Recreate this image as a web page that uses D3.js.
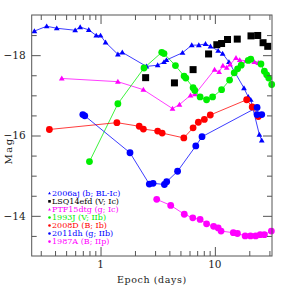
<!DOCTYPE html>
<html><head><meta charset="utf-8">
<script src="https://cdn.jsdelivr.net/npm/d3@7"></script>
<style>body{margin:0;background:#fff}svg{display:block}</style>
</head><body>
<svg id="c" width="287" height="287"></svg>
<script>
// ---- data (epoch in days, absolute magnitude) ----
const sn2006aj_t = [0.264,0.338,0.414,0.600,0.664,0.789,0.917,1.0,1.106,1.418,1.55,2.52,3.16,3.59,3.77,5.21,6.28,7.24,8.28,9.16,10.69,11.69,13.27,17.97,19.6,20.6,24.5,25.7];
const sn2006aj_m = [-18.60,-18.72,-18.67,-18.62,-18.70,-18.63,-18.49,-18.49,-18.32,-18.02,-18.07,-17.72,-17.75,-17.83,-17.88,-18.06,-18.25,-18.25,-18.28,-18.22,-18.11,-18.04,-17.83,-17.18,-16.96,-16.89,-16.02,-15.88];

const lsq14efd_t = [2.48,4.43,6.45,8.81,10.4,11.45,12.9,15.7,20.7,23.7,26.4,29.0];
const lsq14efd_m = [-17.44,-17.31,-17.64,-18.03,-18.26,-18.29,-18.39,-18.40,-18.48,-18.49,-18.31,-18.22];

const ptf15dtg_t = [0.458,1.418,2.37,4.26,4.90,6.12,6.72,9.94,10.9,11.75,12.7,13.6,15.3,16.5,18.7,22.1,24.0];
const ptf15dtg_m = [-17.42,-17.34,-17.14,-16.67,-16.77,-17.00,-17.03,-17.64,-17.58,-17.74,-17.69,-17.77,-17.93,-17.88,-17.86,-17.83,-17.81];

const sn1993J_t = [0.80,1.418,2.40,3.43,3.59,4.52,5.38,5.57,6.45,6.68,7.43,8.46,9.55,11.45,13.45,14.76,15.8,17.0,19.6,20.6,25.3,27.1,28.4,29.6,31.4];
const sn1993J_m = [-15.35,-16.79,-17.68,-18.07,-18.04,-17.74,-17.48,-17.43,-17.19,-17.12,-16.96,-16.89,-16.96,-17.14,-17.38,-17.56,-17.66,-17.75,-17.87,-17.90,-17.78,-17.60,-17.51,-17.43,-17.27];

const sn2008D_t = [0.357,1.39,2.18,2.37,3.16,3.46,5.35,6.45,7.17,8.09,9.12,18.97,21.2,24.0];
const sn2008D_m = [-16.15,-16.32,-16.23,-16.16,-16.11,-16.06,-15.94,-16.19,-16.33,-16.40,-16.51,-16.89,-16.71,-16.47];

const sn2011dh_t = [0.70,0.728,1.81,2.67,2.88,3.62,3.79,4.72,6.81,7.72,23.4,23.4,25.7];
const sn2011dh_m = [-16.52,-16.49,-15.57,-14.79,-14.81,-14.78,-14.85,-15.11,-15.74,-15.97,-16.70,-16.52,-16.52];

const sn1987A_t = [3.10,4.11,5.40,6.41,7.43,8.46,9.75,10.69,11.33,14.5,15.75,18.4,20.5,22.75,24.9,27.1,31.2];
const sn1987A_m = [-14.41,-14.26,-14.04,-13.95,-13.91,-13.80,-13.74,-13.70,-13.62,-13.58,-13.56,-13.50,-13.50,-13.50,-13.53,-13.53,-13.62];

const legendLabels = ["2006aj (b; BL-Ic)","LSQ14efd (V; Ic)","PTF15dtg (g; Ic)","1993J (V; IIb)","2008D (B; Ib)","2011dh (g; IIb)","1987A (B; IIp)"];
const xTickLabels = [1, 10];
const xMinorTicks = [0.3,0.4,0.5,0.6,0.7,0.8,0.9,2,3,4,5,6,7,8,9,20,30];
const yTickLabels = [-18, -16, -14];
const yMinorTicks = [-18.5,-17.5,-17,-16.5,-15.5,-15,-14.5,-13.5];

// ---- chart ----
const svg = d3.select("#c");
const L = 31.7, R = 272, T = 15, B = 256;
const x = d3.scaleLog().domain([0.25, 31.6]).range([L, R]);
const y = d3.scaleLinear().domain([-19, -13]).range([T, B]);
const font = "DejaVu Serif";
const axisColor = "#555";

function zip(t, m){ return t.map((d,i)=>({t:d, m:m[i]})); }

const series = [
  {name:legendLabels[0], data:zip(sn2006aj_t,sn2006aj_m), color:"#0000ff", sym:"tri", size:2.6, line:true},
  {name:legendLabels[1], data:zip(lsq14efd_t,lsq14efd_m), color:"#000000", sym:"sq", size:3.5, line:false},
  {name:legendLabels[2], data:zip(ptf15dtg_t,ptf15dtg_m), color:"#ff00ff", sym:"tri", size:2.6, line:true},
  {name:legendLabels[3], data:zip(sn1993J_t,sn1993J_m), color:"#00ee00", sym:"circ", size:3.4, line:true},
  {name:legendLabels[4], data:zip(sn2008D_t,sn2008D_m), color:"#ff0000", sym:"circ", size:3.4, line:true},
  {name:legendLabels[5], data:zip(sn2011dh_t,sn2011dh_m), color:"#0000ff", sym:"circ", size:3.4, line:true},
  {name:legendLabels[6], data:zip(sn1987A_t,sn1987A_m), color:"#ff00ff", sym:"circ", size:3.4, line:true}
];

function drawSym(g, sym, cx, cy, s, color){
  if(sym==="circ") g.append("circle").attr("cx",cx).attr("cy",cy).attr("r",s).attr("fill",color);
  else if(sym==="sq") g.append("rect").attr("x",cx-s).attr("y",cy-s).attr("width",2*s).attr("height",2*s).attr("fill",color);
  else g.append("path").attr("d",`M${cx},${cy-s*1.1}L${cx+s*1.1},${cy+s*0.8}L${cx-s*1.1},${cy+s*0.8}Z`).attr("fill",color);
}

const plot = svg.append("g");
const line = d3.line().x(d=>x(d.t)).y(d=>y(d.m));
series.forEach(s=>{
  if(s.line) plot.append("path").attr("d",line(s.data)).attr("fill","none").attr("stroke",s.color).attr("stroke-width",0.9).attr("opacity",0.85);
});
series.forEach(s=>{
  const g = plot.append("g");
  s.data.forEach(d=>drawSym(g, s.sym, x(d.t), y(d.m), s.size, s.color));
});

// axes (ticks inward on all sides)
function addAxis(axisFn, scale, vals, len, transform){
  const g = svg.append("g").attr("transform",transform)
    .call(axisFn(scale).tickValues(vals).tickSize(len).tickFormat(""));
  g.selectAll(".domain").remove();
  g.selectAll("line").attr("stroke",axisColor);
}
addAxis(d3.axisBottom, x, xMinorTicks, -5, `translate(0,${B})`);
addAxis(d3.axisBottom, x, xTickLabels, -9, `translate(0,${B})`);
addAxis(d3.axisTop, x, xMinorTicks, -5, `translate(0,${T})`);
addAxis(d3.axisTop, x, xTickLabels, -9, `translate(0,${T})`);
addAxis(d3.axisLeft, y, yMinorTicks, -5, `translate(${L},0)`);
addAxis(d3.axisLeft, y, yTickLabels, -9, `translate(${L},0)`);
addAxis(d3.axisRight, y, yMinorTicks, -5, `translate(${R},0)`);
addAxis(d3.axisRight, y, yTickLabels, -9, `translate(${R},0)`);
svg.append("rect").attr("x",L).attr("y",T).attr("width",R-L).attr("height",B-T)
  .attr("fill","none").attr("stroke",axisColor).attr("stroke-width",1);

// tick labels
svg.append("g").selectAll("text").data(xTickLabels).join("text")
  .attr("x",d=>x(d)).attr("y",B+11.5).attr("text-anchor","middle")
  .attr("font-family",font).attr("font-size",10.5).attr("fill","#222").text(d=>d);
svg.append("g").selectAll("text").data(yTickLabels).join("text")
  .attr("x",L-6).attr("y",d=>y(d)+3.7).attr("text-anchor","end")
  .attr("font-family",font).attr("font-size",10.5).attr("fill","#222").text(d=>"\u2212"+Math.abs(d));

// axis titles
svg.append("text").attr("x",(L+R)/2).attr("y",283).attr("text-anchor","middle")
  .attr("font-family",font).attr("font-size",9.5).attr("fill","#222").attr("letter-spacing",0.6).text("Epoch (days)");
svg.append("text").attr("transform","translate(12,151) rotate(-90)").attr("text-anchor","middle")
  .attr("font-family",font).attr("font-size",10).attr("fill","#222").attr("letter-spacing",1.5).text("Mag");

// legend
const lg = svg.append("g");
series.forEach((s,i)=>{
  const yy = 193.3 + i*8.05;
  drawSym(lg, s.sym, 49.5, yy, 1.3, s.color);
  lg.append("text").attr("x",52).attr("y",yy+2.8).attr("font-family",font).attr("font-size",8)
    .attr("fill",s.color).text(s.name);
});
</script>
</body></html>
